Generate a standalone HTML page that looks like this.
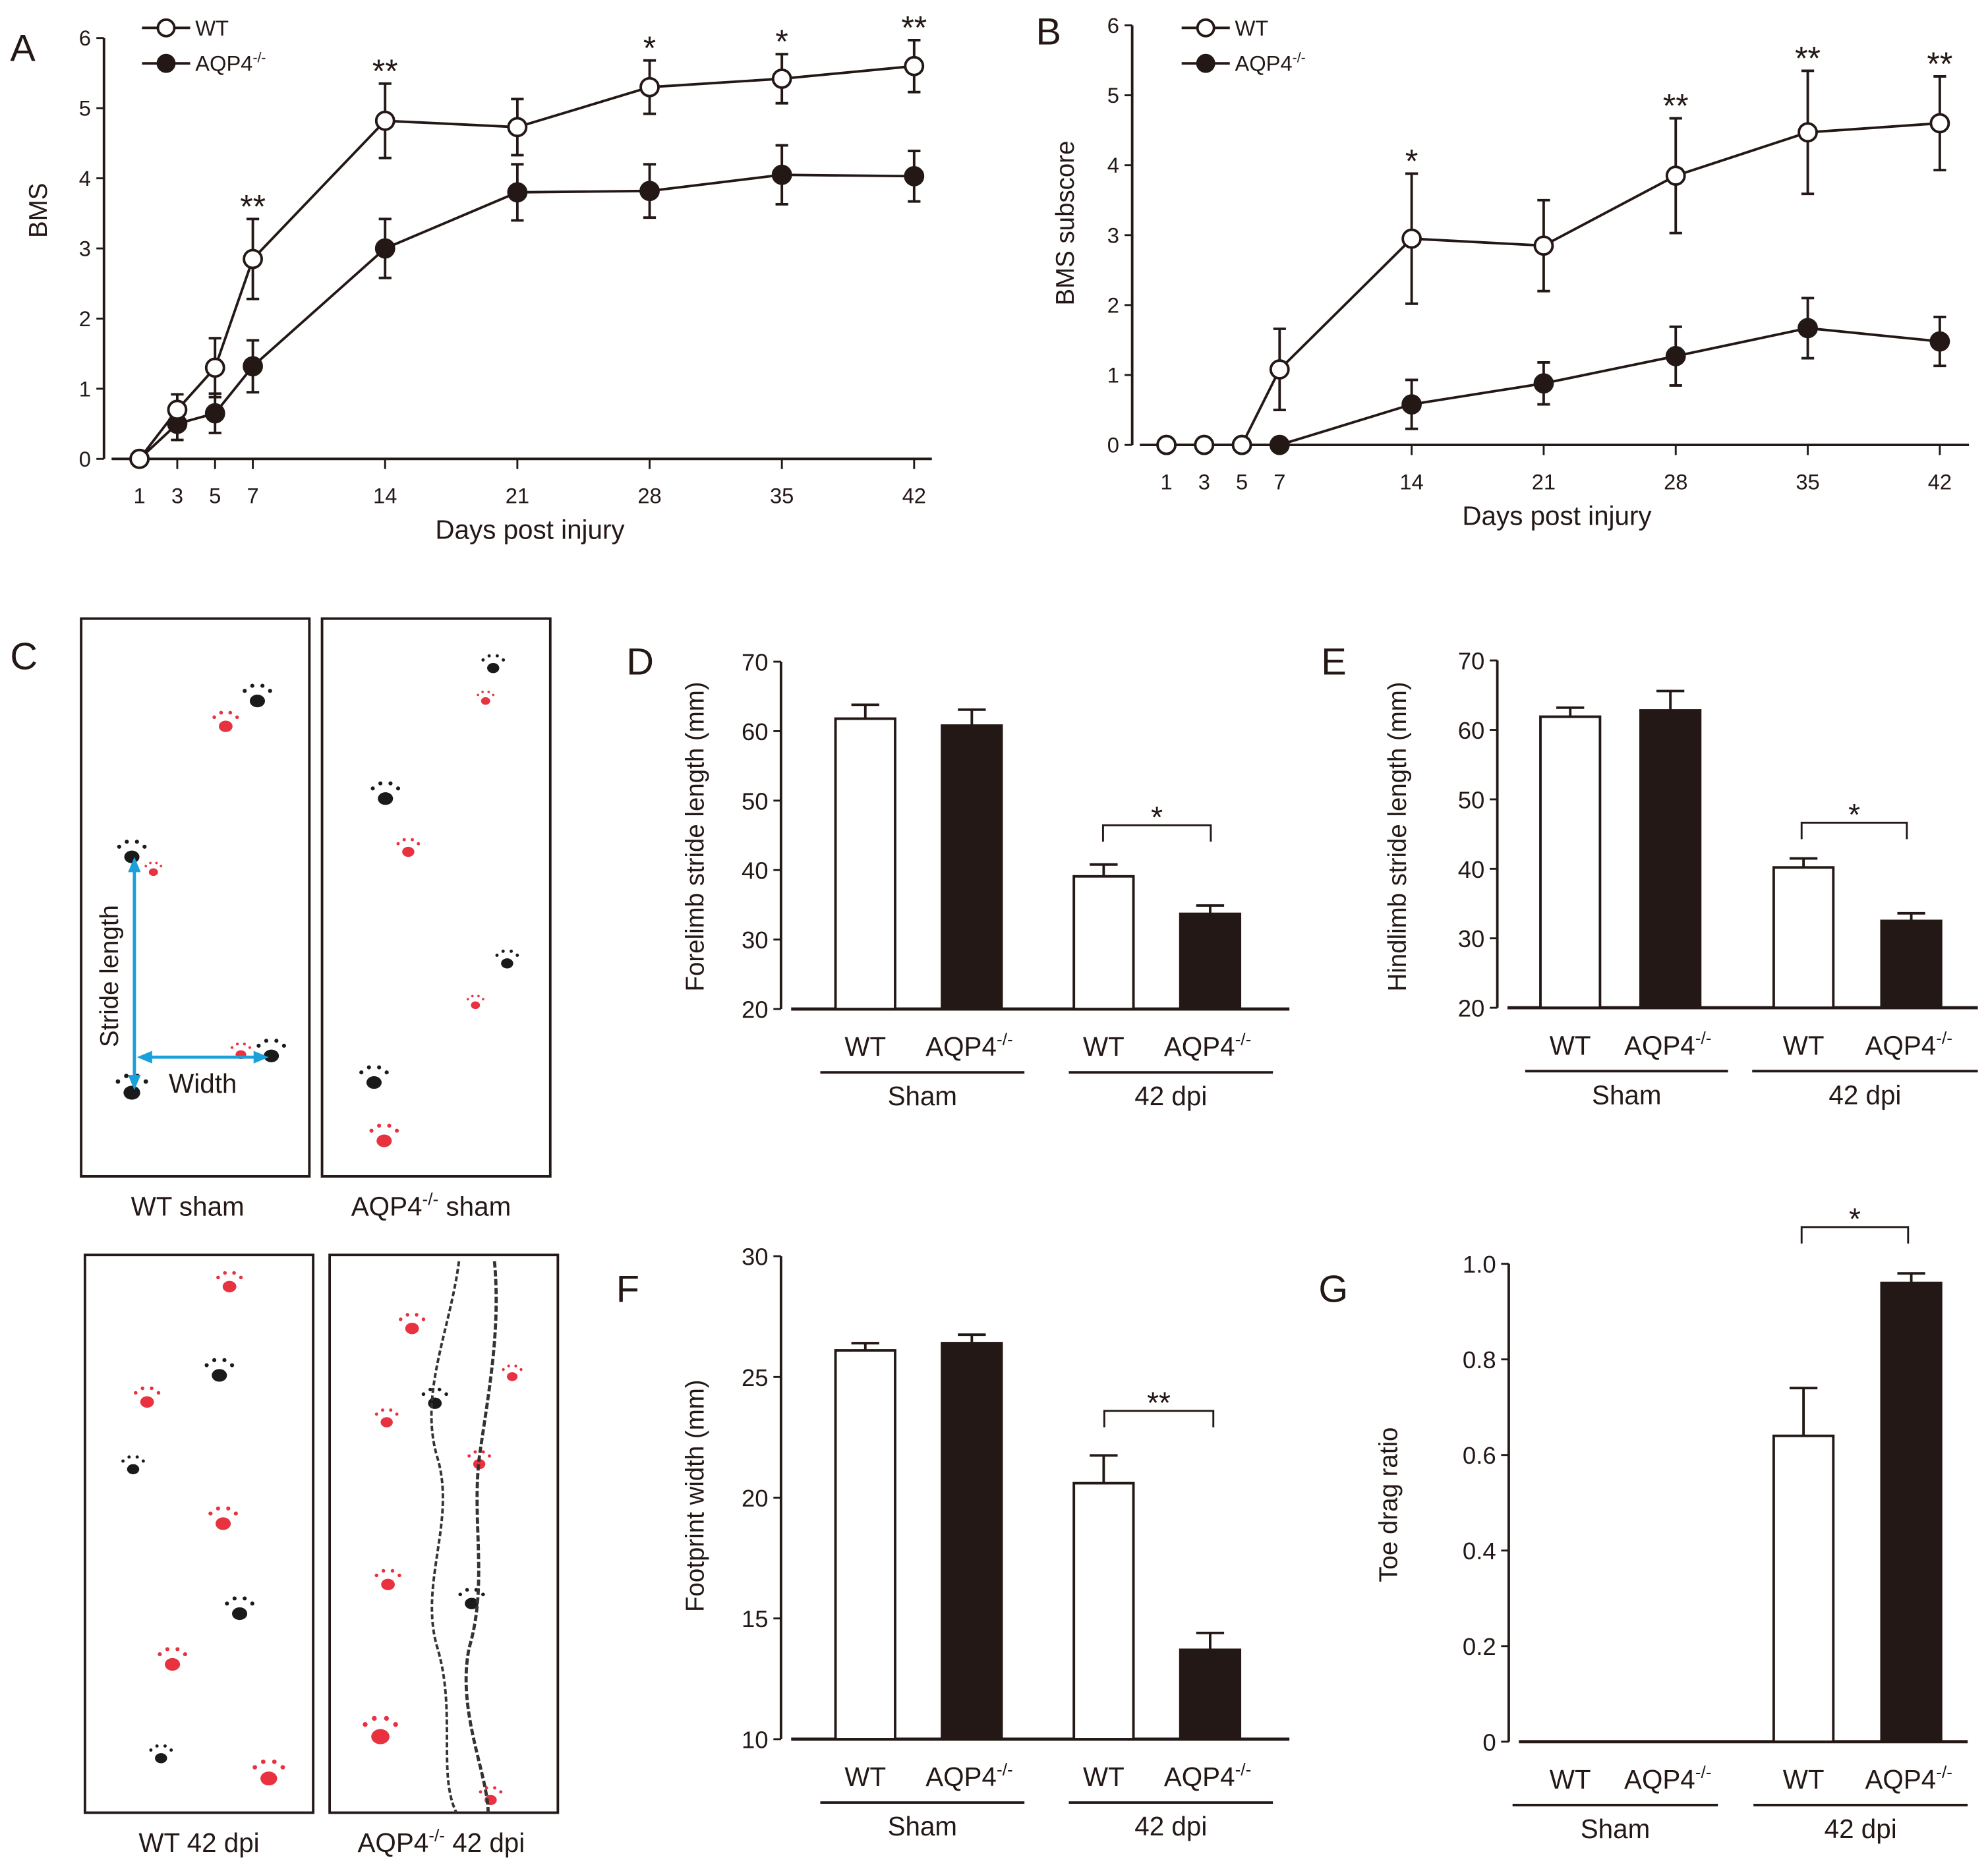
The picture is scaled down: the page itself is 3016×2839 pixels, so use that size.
<!DOCTYPE html>
<html><head><meta charset="utf-8"><style>
html,body{margin:0;padding:0;background:#fff;}
svg{display:block;font-family:"Liberation Sans",sans-serif;}
</style></head><body>
<svg id="fig" width="3016" height="2839" viewBox="0 0 1568 1476" xmlns="http://www.w3.org/2000/svg">
<rect width="1568" height="1476" fill="#fff"/>
<g id="root"></g>
</svg>
<script>
// Panel A data
const daysA = [1,3,5,7,14,21,28,35,42];
const wtA = [0,0.7,1.3,2.85,4.82,4.73,5.3,5.42,5.6];
const wtAerr = [0.1,0.22,0.42,0.57,0.53,0.4,0.38,0.35,0.37];
const koA = [0,0.5,0.65,1.32,3.0,3.8,3.82,4.05,4.03];
const koAerr = [0.1,0.23,0.28,0.37,0.42,0.4,0.38,0.42,0.36];
const starsA = ["","","","**","**","","*","*","**"];
// Panel B data
const wtB = [0,0,0,1.08,2.95,2.85,3.85,4.47,4.6];
const wtBerr = [0,0,0,0.58,0.93,0.65,0.82,0.88,0.67];
const koB = [0,0,0,0,0.58,0.88,1.27,1.67,1.48];
const koBerr = [0,0,0,0,0.35,0.3,0.42,0.43,0.35];
const starsB = ["","","","","*","","**","**","**"];
const lineTicks = [0,1,2,3,4,5,6];
// Bar panels
const barGroups = ["WT","AQP4","WT","AQP4"];
const dVals = [61.8,60.8,39.1,33.7];
const dErr = [2.0,2.3,1.7,1.2];
const dTicks = [20,30,40,50,60,70];
const eVals = [61.9,62.8,40.2,32.5];
const eErr = [1.3,2.8,1.3,1.1];
const fVals = [26.1,26.4,20.6,13.7];
const fErr = [0.3,0.35,1.15,0.7];
const fTicks = [10,15,20,25,30];
const gVals = [0,0,0.64,0.96];
const gErr = [0,0,0.1,0.02];
const gTicks = [0,0.2,0.4,0.6,0.8,1.0];
const gTickLabels = ["0","0.2","0.4","0.6","0.8","1.0"];

const NS="http://www.w3.org/2000/svg";
const root=document.getElementById('root');
function el(tag,attrs,parent,text){const e=document.createElementNS(NS,tag);for(const k in attrs)e.setAttribute(k,attrs[k]);if(text!==undefined)e.textContent=text;(parent||root).appendChild(e);return e;}
function grp(name,parent){const g=el('g',{},parent);


return g;}
function txt(g,x,y,s,size,anchor,name,rot){const t=el('text',{x:x,y:y,'font-size':size,'text-anchor':anchor||'middle',fill:'#231815'},g,s);
if(rot)t.setAttribute('transform','rotate(-90 '+x+' '+y+')');


return t;}
function aqp(g,x,y,size,anchor,name,suffix){const t=el('text',{x:x,y:y,'font-size':size,'text-anchor':anchor||'middle',fill:'#231815'},g);


el('tspan',{},t,'AQP4');el('tspan',{dy:-size*0.4,'font-size':size*0.65},t,'-/-');
if(suffix)el('tspan',{dy:size*0.4},t,suffix);return t;}
const C='#231815';

function lineChart(name,o){
 const g=grp(name);
 const X=d=>o.x1+(d-1)*(o.x42-o.x1)/41, Y=v=>o.y0-v*(o.y0-o.y6)/6;
 el('line',{x1:o.ax,y1:o.y6,x2:o.ax,y2:o.y0,stroke:C,'stroke-width':2},g);
 el('line',{x1:o.ax+6,y1:o.y0,x2:o.xend,y2:o.y0,stroke:C,'stroke-width':2},g);
 lineTicks.forEach(t=>{el('line',{x1:o.ax-6,y1:Y(t),x2:o.ax,y2:Y(t),stroke:C,'stroke-width':1.5},g);txt(g,o.ax-15,Y(t)+6,String(t),17,'middle','y-tick-label');});
 daysA.forEach(d=>{el('line',{x1:X(d),y1:o.y0,x2:X(d),y2:o.y0+8,stroke:C,'stroke-width':1.5},g);txt(g,X(d),o.y0+35,String(d),17,'middle','x-tick-label');});
 txt(g,o.ytx,o.yty,o.ytitle,20,'middle','y-axis-title',true);
 txt(g,o.xtx,o.y0+63,'Days post injury',21,'middle','x-axis-title');
 [[o.ko,o.koe,'#231815','ko'],[o.wt,o.wte,'#fff','wt']].forEach(([vals,errs,fill,nm])=>{
  const sg=grp('series-'+nm,g);
  el('polyline',{points:daysA.map((d,i)=>X(d)+','+Y(vals[i])).join(' '),fill:'none',stroke:C,'stroke-width':2},sg);
  daysA.forEach((d,i)=>{ if(errs[i]>0){const x=X(d);
   el('line',{x1:x,y1:Y(vals[i]-errs[i]),x2:x,y2:Y(vals[i]+errs[i]),stroke:C,'stroke-width':2},sg);
   el('line',{x1:x-5,y1:Y(vals[i]+errs[i]),x2:x+5,y2:Y(vals[i]+errs[i]),stroke:C,'stroke-width':2},sg);
   el('line',{x1:x-5,y1:Y(vals[i]-errs[i]),x2:x+5,y2:Y(vals[i]-errs[i]),stroke:C,'stroke-width':2},sg);}
   const c=el('circle',{cx:X(d),cy:Y(vals[i]),r:7,fill:fill,stroke:C,'stroke-width':2},sg);
   
   
  });
 });
 daysA.forEach((d,i)=>{ if(o.stars[i]){const top=o.wt[i]+o.wte[i]; txt(g,X(d),Y(top)-1,o.stars[i],26,'middle','significance-star');}});
 const lg=grp('legend',g);
 el('line',{x1:o.lx,y1:o.ly,x2:o.lx+38,y2:o.ly,stroke:C,'stroke-width':2},lg);
 el('circle',{cx:o.lx+19,cy:o.ly,r:6.5,fill:'#fff',stroke:C,'stroke-width':2},lg);
 txt(lg,o.lx+42,o.ly+6,'WT',17,'start','legend-entry-wt');
 el('line',{x1:o.lx,y1:o.ly+28,x2:o.lx+38,y2:o.ly+28,stroke:C,'stroke-width':2},lg);
 el('circle',{cx:o.lx+19,cy:o.ly+28,r:6.5,fill:C,stroke:C,'stroke-width':2},lg);
 aqp(lg,o.lx+42,o.ly+34,17,'start','legend-entry-aqp4');
 txt(g,o.lbx,o.lby,o.label,30,'start','panel-label');
}
lineChart('panel-a-bms-chart',{ax:82,y0:362,y6:30,x1:110,x42:721,xend:735,wt:wtA,wte:wtAerr,ko:koA,koe:koAerr,stars:starsA,ytitle:'BMS',ytx:37,yty:166,xtx:418,lx:112,ly:22,label:'A',lbx:8,lby:48});
lineChart('panel-b-bms-subscore-chart',{ax:893,y0:351,y6:20,x1:920,x42:1530,xend:1553,wt:wtB,wte:wtBerr,ko:koB,koe:koBerr,stars:starsB,ytitle:'BMS subscore',ytx:847,yty:176,xtx:1228,lx:932,ly:22,label:'B',lbx:817,lby:35});

function barChart(name,o){
 const g=grp(name);
 const Y=v=>o.yb-(v-o.vmin)*(o.yb-o.yt)/(o.vmax-o.vmin);
 el('line',{x1:o.ax,y1:o.yt,x2:o.ax,y2:o.yb,stroke:C,'stroke-width':2},g);
 el('line',{x1:o.ax+8,y1:o.yb,x2:o.xend,y2:o.yb,stroke:C,'stroke-width':2.5},g);
 o.ticks.forEach((t,i)=>{el('line',{x1:o.ax-6,y1:Y(t),x2:o.ax,y2:Y(t),stroke:C,'stroke-width':1.5},g);txt(g,o.ax-10,Y(t)+7,o.tlabels?o.tlabels[i]:String(t),19,'end','y-tick-label');});
 o.vals.forEach((v,i)=>{const x=o.bx[i],w=47,black=i%2==1;
  if(v>0){
  if(o.errs[i]>0){el('line',{x1:x+w/2,y1:Y(v),x2:x+w/2,y2:Y(v+o.errs[i]),stroke:C,'stroke-width':2},g);
   el('line',{x1:x+w/2-11,y1:Y(v+o.errs[i]),x2:x+w/2+11,y2:Y(v+o.errs[i]),stroke:C,'stroke-width':2},g);}
  const r=el('rect',{x:x,y:Y(v),width:w,height:o.yb-Y(v),fill:black?C:'#fff',stroke:C,'stroke-width':2},g);
  
  }
  if(black) aqp(g,x+w/2-2,o.yb+37,21,'middle','x-group-label'); else txt(g,x+w/2,o.yb+37,'WT',21,'middle','x-group-label');
 });
 el('line',{x1:o.u1[0],y1:o.yb+50,x2:o.u1[1],y2:o.yb+50,stroke:C,'stroke-width':2},g);
 el('line',{x1:o.u2[0],y1:o.yb+50,x2:o.u2[1],y2:o.yb+50,stroke:C,'stroke-width':2},g);
 txt(g,(o.u1[0]+o.u1[1])/2,o.yb+76,'Sham',21,'middle','condition-label-sham');
 txt(g,(o.u2[0]+o.u2[1])/2,o.yb+76,'42 dpi',21,'middle','condition-label-42dpi');
 const b=o.br;
 el('polyline',{points:`${b[0]},${b[2]+13} ${b[0]},${b[2]} ${b[1]},${b[2]} ${b[1]},${b[2]+13}`,fill:'none',stroke:C,'stroke-width':1.5},g);
 txt(g,(b[0]+b[1])/2,b[2]+2,o.star,24,'middle','significance-star');
 txt(g,o.ytx,o.yty,o.ytitle,20,'middle','y-axis-title',true);
 txt(g,o.lbx,o.lby,o.label,30,'start','panel-label');
}
const bxL=[659,743,847,931], bxR=[1215,1294,1399,1484];
barChart('panel-d-forelimb-chart',{ax:616,yt:522,yb:796,vmin:20,vmax:70,xend:1017,vals:dVals,errs:dErr,ticks:dTicks,bx:bxL,u1:[647,808],u2:[843,1004],br:[870,955,651],star:'*',ytitle:'Forelimb stride length (mm)',ytx:555,yty:660,label:'D',lbx:494,lby:532});
barChart('panel-e-hindlimb-chart',{ax:1181,yt:521,yb:795,vmin:20,vmax:70,xend:1560,vals:eVals,errs:eErr,ticks:dTicks,bx:bxR,u1:[1203,1363],u2:[1382,1560],br:[1421,1504,649],star:'*',ytitle:'Hindlimb stride length (mm)',ytx:1109,yty:660,label:'E',lbx:1042,lby:532});
barChart('panel-f-footprint-chart',{ax:616,yt:991,yb:1372,vmin:10,vmax:30,xend:1017,vals:fVals,errs:fErr,ticks:fTicks,bx:bxL,u1:[647,808],u2:[843,1004],br:[871,957,1113],star:'**',ytitle:'Footprint width (mm)',ytx:555,yty:1180,label:'F',lbx:486,lby:1027});
barChart('panel-g-toe-drag-chart',{ax:1190,yt:997,yb:1374,vmin:0,vmax:1,xend:1552,vals:gVals,errs:gErr,ticks:gTicks,tlabels:gTickLabels,bx:bxR,u1:[1193,1355],u2:[1383,1552],br:[1421,1505,968],star:'*',ytitle:'Toe drag ratio',ytx:1102,yty:1187,label:'G',lbx:1040,lby:1027});

// Panel C footprint photos
const pc=grp('panel-c-footprints');
txt(pc,8,528,'C',30,'start','panel-label');
const boxes=[[64,488,'WT sham',148,959,false],[254,488,'sham',340,959,true],[67,990,'WT 42 dpi',157,1461,false],[260,990,'42 dpi',348,1461,true]];
boxes.forEach(([x,y,lab,lx,ly,isK],i)=>{
 const r=el('rect',{x:x,y:y,width:180,height:440,fill:'#fff',stroke:C,'stroke-width':2},pc);
 
 
 if(isK) aqp(pc,lx,ly,21,'middle','photo-caption',' '+lab); else txt(pc,lx,ly,lab,21,'middle','photo-caption');
});
function paw(x,y,col,s){el('ellipse',{cx:x,cy:y,rx:6*s,ry:5*s,fill:col},pc);
 [[-10,-8],[-4,-12],[4,-12],[10,-8]].forEach(([dx,dy])=>el('circle',{cx:x+dx*s,cy:y+dy*s,r:1.6*s,fill:col},pc));}
const R='#e8323f',K='#1a1a1a';
paw(203,553,K,1);paw(178,573,R,0.9);paw(104,676,K,1);paw(121,688,R,0.6);paw(214,833,K,1);paw(190,832,R,0.7);paw(104,862,K,1.1);
paw(389,527,K,0.8);paw(383,553,R,0.6);paw(304,630,K,1);paw(322,672,R,0.8);paw(400,760,K,0.8);paw(375,793,R,0.6);paw(295,854,K,1);paw(303,900,R,1);
paw(181,1015,R,0.9);paw(173,1085,K,1);paw(116,1106,R,0.9);paw(105,1159,K,0.8);paw(176,1202,R,1);paw(189,1273,K,1);paw(136,1313,R,1);paw(127,1387,K,0.8);paw(212,1403,R,1.1);
paw(325,1048,R,0.9);paw(343,1107,K,0.9);paw(305,1122,R,0.8);paw(404,1086,R,0.7);paw(378,1155,R,0.8);paw(306,1250,R,0.9);paw(372,1265,K,0.9);paw(300,1370,R,1.2);paw(387,1420,R,0.8);
el('path',{d:'M362,995 C355,1050 330,1100 345,1150 C360,1200 330,1250 345,1300 C360,1350 345,1400 360,1430',fill:'none',stroke:'#333','stroke-width':2,'stroke-dasharray':'4 2'},pc);
el('path',{d:'M390,995 C395,1050 385,1100 378,1150 C372,1200 385,1250 370,1300 C360,1350 385,1400 385,1430',fill:'none',stroke:'#333','stroke-width':2.5,'stroke-dasharray':'5 2'},pc);
// arrows
const ag=grp('stride-width-arrows',pc);
el('line',{x1:106,y1:684,x2:106,y2:852,stroke:'#1aa0dc','stroke-width':2.5},ag);
el('polygon',{points:'106,676 101,688 111,688',fill:'#1aa0dc'},ag);
el('polygon',{points:'106,860 101,848 111,848',fill:'#1aa0dc'},ag);
el('line',{x1:112,y1:834,x2:204,y2:834,stroke:'#1aa0dc','stroke-width':2.5},ag);
el('polygon',{points:'108,834 120,829 120,839',fill:'#1aa0dc'},ag);
el('polygon',{points:'212,834 200,829 200,839',fill:'#1aa0dc'},ag);
txt(pc,93,770,'Stride length',20,'middle','stride-length-label',true);
txt(pc,160,862,'Width',21,'middle','width-label');
</script>
</body></html>
